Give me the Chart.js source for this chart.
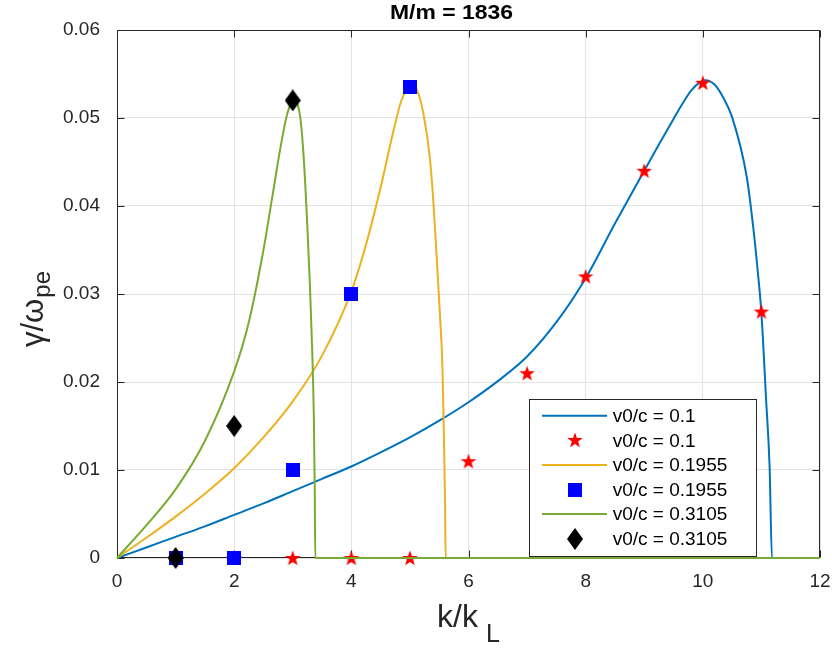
<!DOCTYPE html>
<html>
<head>
<meta charset="utf-8">
<script src="https://cdn.jsdelivr.net/npm/chart.js@4/dist/chart.umd.min.js"></script>
<style>
html,body{margin:0;padding:0;background:#fff;}
#wrap{width:832px;height:648px;}
</style>
</head>
<body>
<div id="wrap"><canvas id="c" width="832" height="648"></canvas></div>
<script>
// ---- data ----
const chartTitle = 'M/m = 1836';
const xTickValues = [0, 2, 4, 6, 8, 10, 12];
const xTickLabels = ['0', '2', '4', '6', '8', '10', '12'];
const yTickValues = [0, 0.01, 0.02, 0.03, 0.04, 0.05, 0.06];
const yTickLabels = ['0', '0.01', '0.02', '0.03', '0.04', '0.05', '0.06'];
const legendLabels = ['v0/c = 0.1', 'v0/c = 0.1', 'v0/c = 0.1955', 'v0/c = 0.1955', 'v0/c = 0.3105', 'v0/c = 0.3105'];

// v0/c = 0.1 (theory curve)
const blueX = [0, 0.5, 1, 1.5, 2, 2.5, 3, 3.5, 4, 4.5, 5, 5.5, 6, 6.5, 7, 7.5, 8, 8.5, 9, 9.25, 9.5, 9.66, 9.8, 9.92, 10.05, 10.2, 10.35, 10.5, 10.75, 10.86, 10.94, 11, 11.08, 11.14, 11.18, 12];
const blueY = [0, 0.0012, 0.0024, 0.0036, 0.0049, 0.0062, 0.0076, 0.0090, 0.0104, 0.0120, 0.0137, 0.0156, 0.0177, 0.0201, 0.0229, 0.0268, 0.0318, 0.0380, 0.0440, 0.0470, 0.0499, 0.0517, 0.0531, 0.0539, 0.0543, 0.0538, 0.0523, 0.0501, 0.0433, 0.0376, 0.0324, 0.0278, 0.0180, 0.0103, 0, 0];
// v0/c = 0.1 (simulation points)
const starX = [1, 2, 3, 4, 5, 6, 7, 8, 9, 10, 11];
const starY = [0, 0, 0, 0, 0, 0.011, 0.021, 0.032, 0.044, 0.054, 0.028];

// v0/c = 0.1955 (theory curve)
const yellowX = [0, 0.5, 1, 1.5, 2, 2.5, 3, 3.5, 4, 4.25, 4.5, 4.7, 4.85, 4.95, 5.03, 5.12, 5.23, 5.34, 5.4, 5.45, 5.51, 5.556, 5.583, 5.6, 5.61, 12];
const yellowY = [0, 0.0023, 0.0047, 0.0073, 0.0102, 0.0137, 0.0178, 0.0230, 0.0303, 0.0356, 0.0421, 0.0480, 0.0519, 0.0533, 0.0537, 0.0532, 0.0505, 0.0455, 0.0405, 0.0350, 0.0280, 0.0215, 0.0130, 0.0060, 0, 0];
// v0/c = 0.1955 (simulation points)
const squareX = [1, 2, 3, 4, 5];
const squareY = [0, 0, 0.010, 0.030, 0.0535];

// v0/c = 0.3105 (theory curve)
const greenX = [0, 0.5, 1, 1.5, 2, 2.25, 2.5, 2.65, 2.8, 2.9, 2.97, 3.02, 3.08, 3.13, 3.18, 3.24, 3.29, 3.33, 3.36, 3.375, 3.385, 12];
const greenY = [0, 0.0037, 0.0078, 0.0133, 0.0212, 0.0268, 0.0350, 0.0410, 0.0470, 0.0503, 0.0517, 0.0521, 0.0516, 0.0500, 0.0462, 0.0390, 0.0315, 0.0240, 0.0160, 0.0080, 0, 0];
// v0/c = 0.3105 (simulation points)
const diamondX = [1, 2, 3];
const diamondY = [0, 0.015, 0.052];

// ---- styles ----
const FONT = '"Liberation Sans", Arial, Helvetica, sans-serif';
const AXIS_COLOR = '#262626';
const C_BLUE = '#0072BD', C_YELLOW = '#EDB120', C_GREEN = '#77AC30';

function pts(xs, ys) { return xs.map((x, i) => ({ x: x, y: ys[i] })); }

function makeStar(R, r, color) {
  const s = 18;
  const c = document.createElement('canvas'); c.width = s; c.height = s;
  const g = c.getContext('2d'); g.fillStyle = color; g.beginPath();
  for (let i = 0; i < 10; i++) {
    const a = -Math.PI / 2 + i * Math.PI / 5;
    const rad = i % 2 === 0 ? R : r;
    g.lineTo(s / 2 + rad * Math.cos(a), s / 2 + 0.6 + rad * Math.sin(a));
  }
  g.closePath(); g.fill();
  return c;
}
function makeSquare(size, color) {
  const c = document.createElement('canvas'); c.width = size; c.height = size;
  const g = c.getContext('2d'); g.fillStyle = color; g.fillRect(0, 0, size, size);
  return c;
}
function makeDiamond(w, h, color) {
  const c = document.createElement('canvas'); c.width = w; c.height = h;
  const g = c.getContext('2d'); g.fillStyle = color; g.beginPath();
  g.moveTo(w / 2, 0); g.lineTo(w, h / 2); g.lineTo(w / 2, h); g.lineTo(0, h / 2); g.closePath(); g.fill();
  return c;
}
const starImg = makeStar(8.2, 3.3, '#ff0000');
const squareImg = makeSquare(14, '#0000ff');
const diamondImg = makeDiamond(16, 22, '#000000');

function lineDS(label, xs, ys, color, order) {
  return { label: label, data: pts(xs, ys), showLine: true, borderColor: color, backgroundColor: color,
    borderWidth: 2, pointRadius: 0, pointHoverRadius: 0, cubicInterpolationMode: 'monotone', clip: false, order: order };
}
function markDS(label, xs, ys, img, order) {
  return { label: label, data: pts(xs, ys), showLine: false, pointStyle: img, pointRadius: 8,
    pointHoverRadius: 8, clip: false, order: order, backgroundColor: '#000', borderColor: '#000' };
}

const datasets = [
  lineDS(legendLabels[0], blueX, blueY, C_BLUE, 6),
  markDS(legendLabels[1], starX, starY, starImg, 5),
  lineDS(legendLabels[2], yellowX, yellowY, C_YELLOW, 4),
  markDS(legendLabels[3], squareX, squareY, squareImg, 3),
  lineDS(legendLabels[4], greenX, greenY, C_GREEN, 2),
  markDS(legendLabels[5], diamondX, diamondY, diamondImg, 1)
];
const legendKinds = [
  { type: 'line', color: C_BLUE }, { type: 'img', img: starImg },
  { type: 'line', color: C_YELLOW }, { type: 'img', img: squareImg },
  { type: 'line', color: C_GREEN }, { type: 'img', img: diamondImg }
];

function fitText(ctx, text, x, y, targetW) {
  const w = ctx.measureText(text).width;
  ctx.save();
  ctx.translate(x, y);
  ctx.scale(targetW / w, 1);
  ctx.fillText(text, 0, 0);
  ctx.restore();
}

const boxPlugin = {
  id: 'matlabBox',
  beforeDatasetsDraw(chart) {
    const { ctx, chartArea: a, scales } = chart;
    const L = Math.round(a.left) + 0.5, R = Math.round(a.right) - 0.5, T = Math.round(a.top) + 0.5, B = Math.round(a.bottom) - 0.5;
    ctx.save();
    ctx.strokeStyle = AXIS_COLOR; ctx.lineWidth = 1;
    ctx.beginPath();
    ctx.rect(L, T, R - L, B - T);
    const tl = 7;
    xTickValues.forEach(v => {
      const px = Math.round(scales.x.getPixelForValue(v)) + 0.5;
      ctx.moveTo(px, B); ctx.lineTo(px, B - tl);
      ctx.moveTo(px, T); ctx.lineTo(px, T + tl);
    });
    yTickValues.forEach(v => {
      const py = Math.round(scales.y.getPixelForValue(v)) + 0.5;
      ctx.moveTo(L, py); ctx.lineTo(L + tl, py);
      ctx.moveTo(R, py); ctx.lineTo(R - tl, py);
    });
    ctx.stroke();
    ctx.restore();
  },
  afterDraw(chart) {
    const ctx = chart.ctx;
    ctx.save();
    // title
    ctx.fillStyle = '#000';
    ctx.font = 'bold 20px ' + FONT;
    ctx.textAlign = 'left'; ctx.textBaseline = 'alphabetic';
    fitText(ctx, chartTitle, 390, 19, 123);
    // x label
    ctx.fillStyle = AXIS_COLOR;
    ctx.textAlign = 'left';
    ctx.font = '32px ' + FONT;
    ctx.fillText('k/k', 437, 627);
    ctx.font = '25px ' + FONT;
    ctx.fillText('L', 486, 642);
    // y label
    ctx.save();
    ctx.translate(43, 347);
    ctx.rotate(-Math.PI / 2);
    ctx.font = '31px ' + FONT;
    ctx.fillText('\u03B3/\u03C9', 0, 0);
    const w = ctx.measureText('\u03B3/\u03C9').width;
    ctx.font = '24px ' + FONT;
    ctx.fillText('pe', w + 1, 7);
    ctx.restore();
    // legend
    const bx = 529.5, by = 399.5, bw = 227, bh = 157;
    ctx.fillStyle = '#fff';
    ctx.fillRect(bx, by, bw, bh);
    ctx.strokeStyle = AXIS_COLOR; ctx.lineWidth = 1;
    ctx.strokeRect(bx, by, bw, bh);
    ctx.font = '19px ' + FONT;
    ctx.textBaseline = 'middle'; ctx.textAlign = 'left';
    legendKinds.forEach((k, i) => {
      const ry = 415.7 + i * 24.6;
      if (k.type === 'line') {
        ctx.strokeStyle = k.color; ctx.lineWidth = 2;
        ctx.beginPath(); ctx.moveTo(542, ry); ctx.lineTo(607, ry); ctx.stroke();
      } else {
        ctx.drawImage(k.img, Math.round(574.5 - k.img.width / 2), Math.round(ry - k.img.height / 2));
      }
      ctx.fillStyle = '#000';
      ctx.fillText(legendLabels[i], 612.7, ry + 1);
    });
    ctx.restore();
  }
};

new Chart(document.getElementById('c'), {
  type: 'scatter',
  data: { datasets: datasets },
  options: {
    responsive: false,
    devicePixelRatio: 1,
    animation: false,
    events: [],
    layout: { padding: { left: 0, right: 12, top: 30, bottom: 0 } },
    plugins: { legend: { display: false }, tooltip: { enabled: false }, title: { display: false } },
    scales: {
      x: {
        type: 'linear', min: 0, max: 12,
        afterFit(s) { s.height = 90; s.paddingLeft = 0; s.paddingRight = 0; },
        afterBuildTicks(s) { s.ticks = xTickValues.map(v => ({ value: v })); },
        ticks: { color: AXIS_COLOR, font: { family: FONT, size: 19 }, padding: 12, maxRotation: 0,
          callback: (v, i) => xTickLabels[i] },
        grid: { color: '#e3e3e3', lineWidth: 1, drawTicks: false },
        border: { display: false }
      },
      y: {
        type: 'linear', min: 0, max: 0.06,
        afterFit(s) { s.width = 117; s.paddingTop = 0; s.paddingBottom = 0; },
        afterBuildTicks(s) { s.ticks = yTickValues.map(v => ({ value: v })); },
        ticks: { color: AXIS_COLOR, font: { family: FONT, size: 19 }, padding: 17,
          callback: (v, i) => yTickLabels[i] },
        grid: { color: '#e3e3e3', lineWidth: 1, drawTicks: false },
        border: { display: false }
      }
    }
  },
  plugins: [boxPlugin]
});
</script>
</body>
</html>
